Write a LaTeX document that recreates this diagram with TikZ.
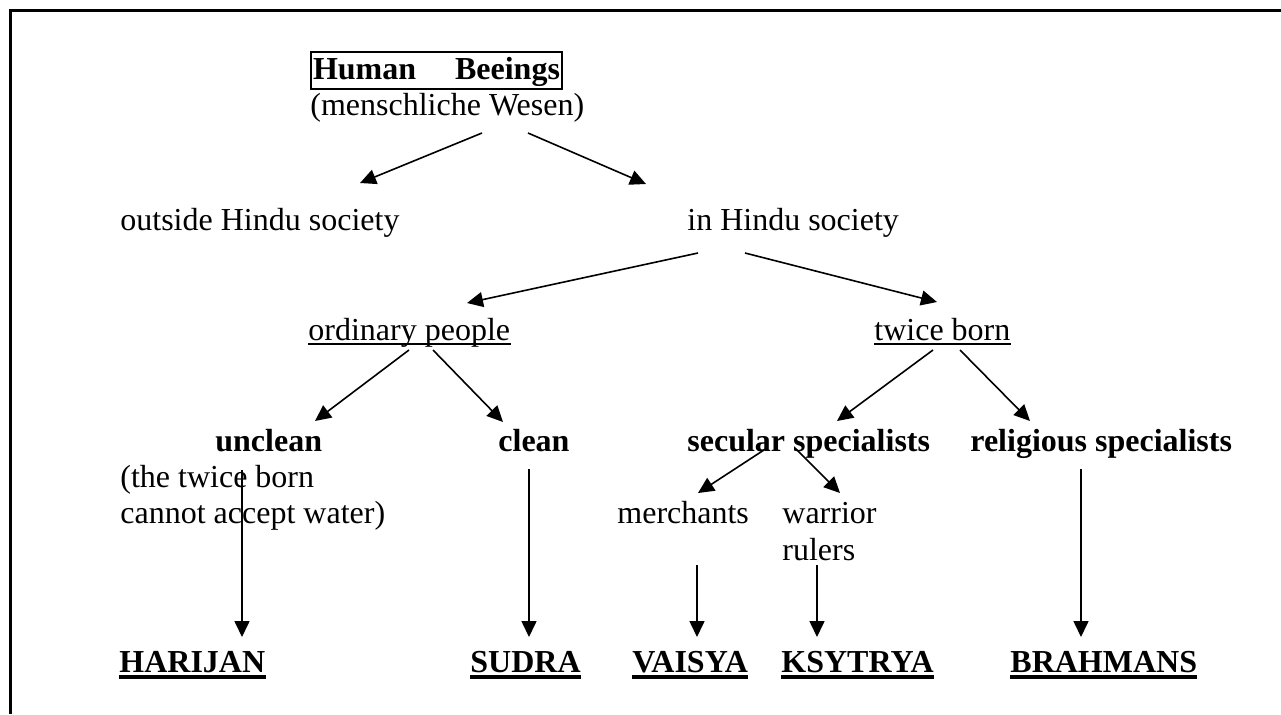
\documentclass[tikz,border=0pt]{standalone}
\usepackage{fontspec}
\setmainfont{Liberation Serif}
\usetikzlibrary{arrows.meta}
\begin{document}
\begin{tikzpicture}[x=0.5pt,y=-0.5pt,
  txt/.style={inner sep=0pt,anchor=base west,font=\fontsize{16}{18}\selectfont},
  btxt/.style={inner sep=0pt,anchor=base west,font=\fontsize{16}{18}\selectfont\bfseries},
  arr/.style={line width=0.8pt,-{Triangle[length=8pt,width=7.5pt]}},
  ul/.style={line width=1pt},
  ulb/.style={line width=2pt}]
\useasboundingbox (0,0) rectangle (1281,714);
% frame
\draw[line width=1.3pt] (10.5,714) -- (10.5,10.5) -- (1281,10.5);
% nodes
\node[btxt,draw,line width=1pt,inner xsep=1pt,inner ysep=0pt,text height=13.5pt,text depth=5pt] (hb) at (310,79) {\makebox[123.5pt][s]{Human Beeings}};
\node[txt] (mw) at (310,115) {(menschliche Wesen)};
\node[txt] (out) at (120,230) {outside Hindu society};
\node[txt] (in) at (687,230) {in Hindu society};
\node[txt] (ord) at (308,340) {ordinary people};
\node[txt] (twice) at (874,340) {twice born};
\node[btxt] (uncl) at (215,451) {unclean};
\node[txt] (tw1) at (120,487) {(the twice born};
\node[txt] (tw2) at (120,523) {cannot accept water)};
\node[btxt] (clean) at (498,451) {clean};
\node[btxt] (sec) at (687,451) {secular specialists};
\node[btxt] (rel) at (970,451) {religious specialists};
\node[txt] (merch) at (617,523) {merchants};
\node[txt] (warr) at (782,523) {warrior};
\node[txt] (rul) at (782,560) {rulers};
\node[btxt] (har) at (119,672) {HARIJAN};
\node[btxt] (sud) at (470,672) {SUDRA};
\node[btxt] (vai) at (632,672) {VAISYA};
\node[btxt] (ksy) at (781,672) {KSYTRYA};
\node[btxt] (bra) at (1010,672) {BRAHMANS};
% underlines
\foreach \n in {ord,twice}
  \draw[ul] ([yshift=-2pt]\n.base west) -- ([yshift=-2pt]\n.base east);
\foreach \n in {har,sud,vai,ksy,bra}
  \draw[ulb] ([yshift=-2.5pt]\n.base west) -- ([yshift=-2.5pt]\n.base east);
% connector end points
\coordinate (a1s) at (482,133); \coordinate (a1e) at (360,183);
\coordinate (a2s) at (528,133); \coordinate (a2e) at (646,184);
\coordinate (a3s) at (698,253); \coordinate (a3e) at (467,303);
\coordinate (a4s) at (745,253); \coordinate (a4e) at (937,302);
\coordinate (a5s) at (409,350); \coordinate (a5e) at (315,421);
\coordinate (a6s) at (433,350); \coordinate (a6e) at (503,422);
\coordinate (a7s) at (933,350); \coordinate (a7e) at (837,421);
\coordinate (a8s) at (960,350); \coordinate (a8e) at (1030,421);
\coordinate (a9s) at (242,470); \coordinate (a9e) at (242,637);
\coordinate (a10s) at (529,469); \coordinate (a10e) at (529,637);
\coordinate (a11s) at (767,448); \coordinate (a11e) at (698,493);
\coordinate (a12s) at (795,448); \coordinate (a12e) at (840,493);
\coordinate (a13s) at (697,565); \coordinate (a13e) at (697,637);
\coordinate (a14s) at (817,565); \coordinate (a14e) at (817,637);
\coordinate (a15s) at (1081,469); \coordinate (a15e) at (1081,637);
\foreach \i in {1,...,15}
  \draw[arr] (a\i s) -- (a\i e);
\end{tikzpicture}
\end{document}
